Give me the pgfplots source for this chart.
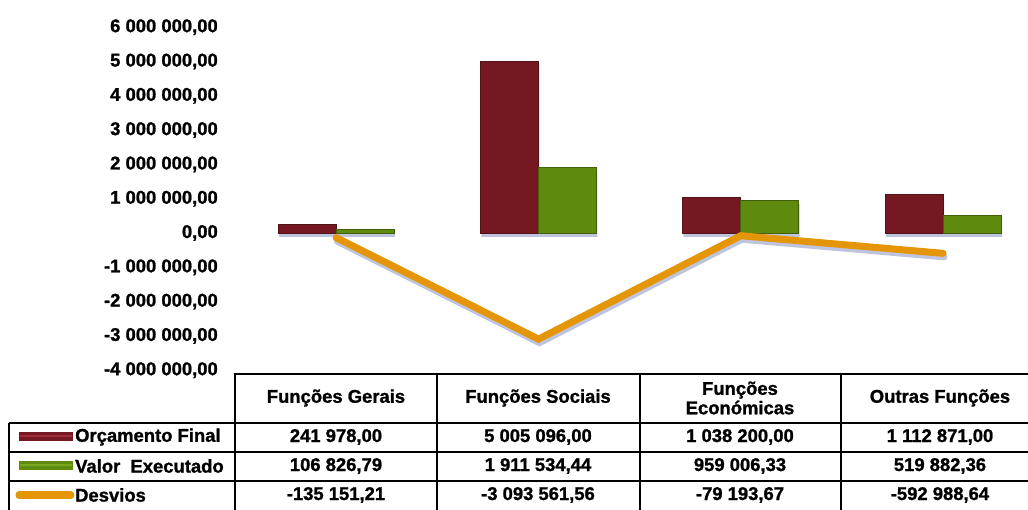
\documentclass[border=0pt]{standalone}
\usepackage{pgfplots}
\pgfplotsset{compat=1.18}
\usepackage{fontspec}
\setmainfont{Liberation Sans}[BoldFeatures={FakeBold=1.2}]
\definecolor{barred}{RGB}{118,24,34}
\definecolor{barredl}{RGB}{160,45,55}
\definecolor{bargreen}{RGB}{94,138,14}
\definecolor{bargreenl}{RGB}{120,168,30}
\definecolor{lineorange}{RGB}{228,150,8}
\definecolor{shadowc}{RGB}{190,196,222}
\begin{document}
\begin{tikzpicture}[font=\fontsize{18.5}{21}\selectfont\bfseries]
\path[use as bounding box] (0bp,0bp) rectangle (1028bp,510bp);
\begin{axis}[
  at={(235bp,139.8bp)}, anchor=south west,
  scale only axis, width=793bp, height=343bp,
  xmin=-0.5, xmax=3.42, ymin=-4000000, ymax=6000000,
  axis x line=none,
  axis y line*=left,
  y axis line style={draw=none},
  scaled y ticks=false,
  ytick={-4000000,-3000000,-2000000,-1000000,0,1000000,2000000,3000000,4000000,5000000,6000000},
  yticklabels={{-4 000 000,00},{-3 000 000,00},{-2 000 000,00},{-1 000 000,00},{0,00},{1 000 000,00},{2 000 000,00},{3 000 000,00},{4 000 000,00},{5 000 000,00},{6 000 000,00}},
  ytick style={draw=none},
  major tick length=0pt,
  yticklabel style={font=\fontsize{18.5}{21}\selectfont\bfseries, anchor=east, inner sep=0pt, xshift=-17bp},
  clip=false,
]
% shadows
\addplot[ybar, bar width=58bp, bar shift=-29bp, fill=shadowc, draw=none, yshift=-4bp, xshift=1bp]
  coordinates {(0,241978.00) (1,5005096.00) (2,1038200.00) (3,1112871.00)};
\addplot[ybar, bar width=58bp, bar shift=29bp, fill=shadowc, draw=none, yshift=-4bp, xshift=1bp]
  coordinates {(0,106826.79) (1,1911534.44) (2,959006.33) (3,519882.36)};
% bars
\addplot[ybar, bar width=58bp, bar shift=-29bp, fill=barred, draw=barred!70!black, line width=0.8bp]
  coordinates {(0,241978.00) (1,5005096.00) (2,1038200.00) (3,1112871.00)};
\addplot[ybar, bar width=58bp, bar shift=29bp, fill=bargreen, draw=bargreen!70!black, line width=0.8bp]
  coordinates {(0,106826.79) (1,1911534.44) (2,959006.33) (3,519882.36)};
% line shadow and line
\addplot[sharp plot, no marks, line width=7bp, draw=shadowc, yshift=-3.5bp, xshift=1bp, line cap=round]
  coordinates {(0,-135151.21) (1,-3093561.56) (2,-79193.67) (3,-592988.64)};
\addplot[sharp plot, no marks, line width=7bp, draw=lineorange, line cap=round]
  coordinates {(0,-135151.21) (1,-3093561.56) (2,-79193.67) (3,-592988.64)};
\end{axis}
\begin{scope}[x=1bp,y=1bp]
% table lines
\draw[line width=2.4bp] (235,136) -- (1030,136);
\draw[line width=2.4bp] (9,87) -- (1030,87);
\draw[line width=2.4bp] (9,58) -- (1030,58);
\draw[line width=2.4bp] (9,29) -- (1030,29);
\draw[line width=2.4bp] (9,87) -- (9,-2);
\foreach \xx in {235,437,640,841} \draw[line width=2.4bp] (\xx,137.2) -- (\xx,-2);
% header
\node at (336,112) {Funções Gerais};
\node at (538,112) {Funções Sociais};
\node[align=center, font=\fontsize{18.5}{19.5}\selectfont\bfseries] at (740,112) {Funções\\Económicas};
\node at (940,112) {Outras Funções};
% legend swatches
\fill[barred] (19,69) rectangle (73,78);
\fill[barredl] (20,73) rectangle (72,74.5);
\fill[bargreen] (19,40) rectangle (73,49);
\fill[bargreenl] (20,44) rectangle (72,45.5);
\draw[lineorange, line width=7bp, line cap=round] (19,15) -- (71,15);
\node[anchor=west, inner sep=0pt] at (75,73) {Orçamento Final};
\node[anchor=west, inner sep=0pt] at (75,44) {Valor\ \ Executado};
\node[anchor=west, inner sep=0pt] at (75,15) {Desvios};
% values
\node at (336,73) {241 978,00};
\node at (538,73) {5 005 096,00};
\node at (740,73) {1 038 200,00};
\node at (940,73) {1 112 871,00};
\node at (336,44) {106 826,79};
\node at (538,44) {1 911 534,44};
\node at (740,44) {959 006,33};
\node at (940,44) {519 882,36};
\node at (336,15) {-135 151,21};
\node at (538,15) {-3 093 561,56};
\node at (740,15) {-79 193,67};
\node at (940,15) {-592 988,64};
\end{scope}
\end{tikzpicture}
\end{document}
